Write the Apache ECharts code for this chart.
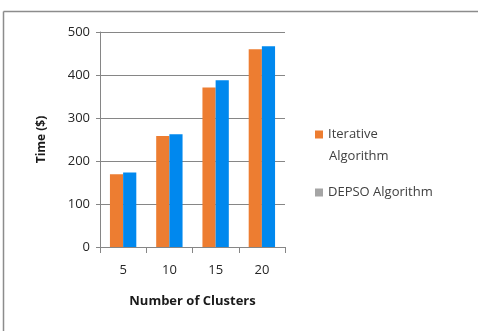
<!DOCTYPE html>
<html><head><meta charset="utf-8">
<script src="https://cdn.jsdelivr.net/npm/echarts@6/dist/echarts.min.js"></script>
<style>html,body{margin:0;padding:0;background:#fff}#c{width:478px;height:331px}</style>
</head><body><div id="c"></div>
<script>
const categories = ['5', '10', '15', '20'];
const iterative = [169, 258, 371, 460];
const depso = [173, 262, 388, 467];
const seriesNames = ['Iterative Algorithm', 'DEPSO Algorithm'];
const legendLines = ['Iterative', 'Algorithm'];
const yTicks = [0, 100, 200, 300, 400, 500];

const font = 'Open Sans';
const chart = echarts.init(document.getElementById('c'), null, {renderer: 'canvas'});
chart.setOption({
  animation: false,
  textStyle: {fontFamily: font},
  grid: {left: 100, top: 32, width: 185, height: 215},
  xAxis: {
    type: 'category', data: categories,
    name: 'Number of Clusters', nameLocation: 'middle', nameGap: 48,
    nameTextStyle: {fontFamily: font, fontWeight: 'bold', fontSize: 13, color: '#1a1a1a'},
    axisLine: {lineStyle: {color: '#868686', width: 1}},
    axisTick: {show: true, length: 6, lineStyle: {color: '#868686'}},
    axisLabel: {fontSize: 13, color: '#262626', margin: 17}
  },
  yAxis: {
    type: 'value', min: 0, max: 500, interval: 100,
    name: 'Time ($)', nameLocation: 'middle', nameGap: 52, nameRotate: 90,
    nameTextStyle: {fontFamily: font, fontWeight: 'bold', fontSize: 12, color: '#1a1a1a'},
    axisLine: {show: true, lineStyle: {color: '#868686'}},
    axisTick: {show: true, length: 4, lineStyle: {color: '#868686'}},
    axisLabel: {fontSize: 13, color: '#262626', margin: 10,
      formatter: v => yTicks.includes(v) ? String(v) : ''},
    splitLine: {lineStyle: {color: '#868686', width: 1}}
  },
  legend: [
    {orient: 'vertical', left: 310, top: 123, itemWidth: 8, itemHeight: 8, icon: 'rect', itemGap: 6,
     data: [{name: seriesNames[0]}],
     formatter: () => legendLines[0],
     textStyle: {fontSize: 13, color: '#404040'}},
    {orient: 'vertical', left: 310, top: 181, itemWidth: 8, itemHeight: 8, icon: 'rect', itemGap: 6,
     data: [{name: seriesNames[1], itemStyle: {color: '#a5a5a5'}}],
     textStyle: {fontSize: 13, color: '#404040'}}
  ],
  series: [
    {name: seriesNames[0], type: 'bar', data: iterative, barGap: '0%', barCategoryGap: '43%',
     itemStyle: {color: '#ED7D31'}},
    {name: seriesNames[1], type: 'bar', data: depso,
     itemStyle: {color: '#0088EE'}}
  ],
  graphic: [
    {type: 'text', left: 329, top: 150, style: {text: legendLines[1], font: '13px "Open Sans"', fill: '#404040'}},
    {type: 'line', shape: {x1: 3.5, y1: 11.5, x2: 478, y2: 11.5}, style: {stroke: '#8c8c8c', lineWidth: 1.5}},
    {type: 'line', shape: {x1: 3.5, y1: 11.5, x2: 3.5, y2: 331}, style: {stroke: '#8c8c8c', lineWidth: 1.5}}
  ]
});
</script></body></html>
